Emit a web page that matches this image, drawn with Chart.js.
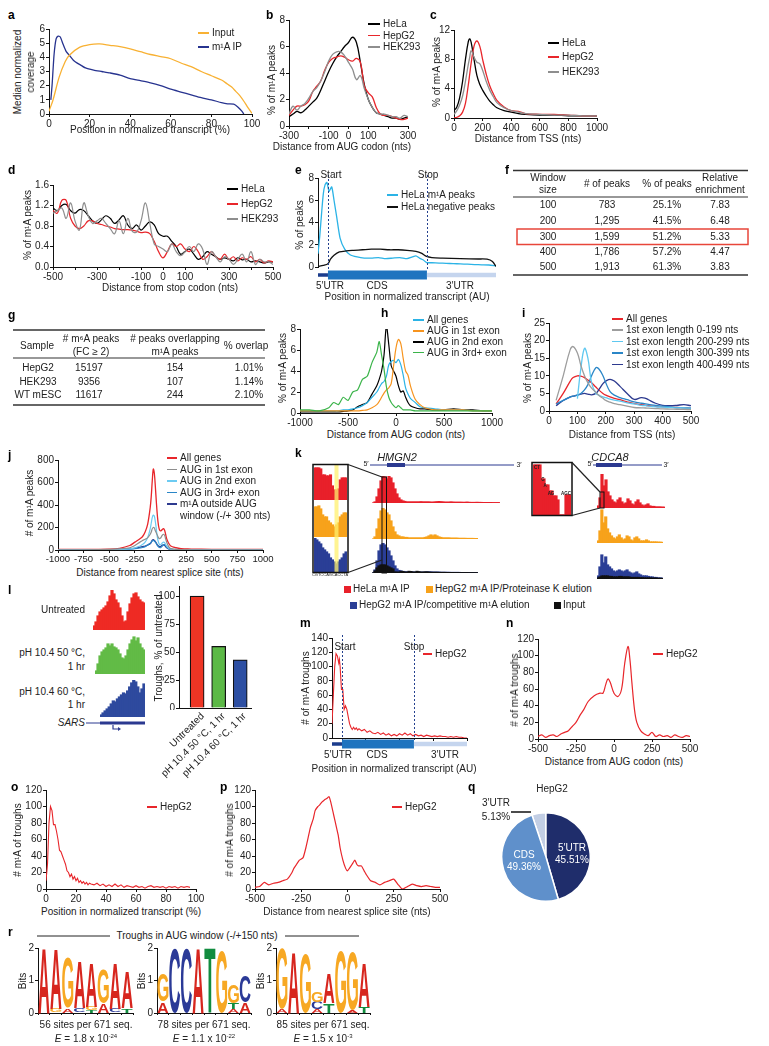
<!DOCTYPE html>
<html>
<head>
<meta charset="utf-8">
<title>m1A figure</title>
<script src="https://cdn.jsdelivr.net/npm/chart.js@4.4.1/dist/chart.umd.min.js"></script>
<style>
  body { margin: 0; background: #fff; }
  #fig { position: relative; width: 769px; height: 1046px; overflow: hidden; font-family: "Liberation Sans", Arial, sans-serif; color: #222; }
  #fig canvas { position: absolute; }
  .t { position: absolute; white-space: nowrap; font-size: 10px; line-height: 1; }
  .lab { font-weight: bold; font-size: 12px; color: #000; }
  .w { color: #fff; }
  sup { font-size: 6px; vertical-align: 4px; line-height: 0; }
</style>
</head>
<body>
<div id="fig"></div>
<script>
// ---------- data ----------
// a
const aInX = [0,2,5,8,10,15,20,25,30,35,40,45,50,55,60,65,70,75,80,85,88,90,92,94,96,98,100];
const aInY = [0.2,1.0,2.6,3.7,4.15,4.7,4.9,4.95,4.85,4.75,4.6,4.4,4.2,4.05,3.9,3.6,3.35,3.0,2.7,2.4,2.1,1.9,1.6,1.3,0.9,0.45,0.05];
const aIpX = [0.9,1.5,2.5,3.5,4.5,5.5,7,8.5,10,12,15,18,22,26,30,35,40,45,50,55,60,65,70,75,80,85,88,91,93,95,96];
const aIpY = [1.0,2.0,4.2,5.3,5.5,5.45,4.9,4.4,4.15,3.8,3.5,3.25,3.1,3.0,2.9,2.75,2.5,2.35,2.2,2.0,1.75,1.55,1.35,1.15,1.0,0.8,0.72,0.7,0.5,0.2,0.0];
// b
const bX = [-300,-280,-260,-240,-220,-200,-180,-160,-140,-120,-100,-80,-60,-40,-20,0,20,40,60,80,100,120,140,160,180,200,220,240,260,280,300];
const bHeLa = [0.7,0.9,1.1,1.0,1.2,1.5,1.8,2.1,2.7,3.4,4.1,4.7,5.2,5.6,6.0,6.3,6.7,6.3,4.8,3.1,2.0,1.4,1.0,0.9,0.8,0.7,0.6,0.6,0.5,0.6,0.7];
const bHepG2 = [0.8,1.2,1.5,1.5,1.6,1.9,2.6,3.0,3.4,4.2,4.8,5.1,5.2,5.3,5.2,5.0,4.9,5.1,4.8,3.0,2.5,2.2,1.4,0.9,0.8,0.8,0.7,0.6,0.5,0.5,0.6];
const bHEK = [0.9,1.5,1.2,1.5,1.7,2.1,2.6,2.9,3.4,4.1,4.9,5.4,5.6,5.6,5.3,4.8,4.3,3.5,3.8,2.8,2.0,1.4,1.0,0.9,0.9,0.8,0.7,0.7,0.6,0.8,0.7];
// c
const cX = [0,20,40,60,80,100,110,120,140,160,180,200,225,250,275,300,350,400,450,500,600,700,800,900,1000];
const cHeLa = [1.0,1.5,2.8,5.0,8.0,10.4,10.8,10.3,8.0,5.8,4.6,3.8,3.0,2.3,1.8,1.4,1.0,0.8,0.6,0.5,0.4,0.4,0.3,0.3,0.3];
const cHepG2 = [0.0,0.1,0.3,0.8,2.0,4.5,6.0,7.5,9.8,10.5,9.8,8.0,6.0,4.4,3.3,2.4,1.5,1.0,0.9,0.6,0.5,0.5,0.4,0.3,0.3];
const cHEK = [0.5,1.0,1.8,3.0,5.0,7.3,8.3,9.2,8.3,7.6,7.4,6.5,5.0,3.8,2.9,2.1,1.4,1.0,0.8,0.6,0.5,0.4,0.4,0.3,0.3];
// d
const dX = [-500,-480,-460,-440,-420,-400,-380,-360,-340,-320,-300,-280,-260,-240,-220,-200,-180,-160,-140,-120,-100,-80,-60,-40,-20,0,20,40,60,80,100,120,140,160,180,200,220,240,260,280,300,320,340,360,380,400,420,440,460,480,500];
const dHeLa = [1.15,1.1,1.2,1.22,1.1,1.05,1.12,1.1,1.0,0.9,0.85,0.92,1.0,0.95,0.85,0.92,1.0,0.82,0.75,0.82,0.72,0.8,0.88,0.82,0.65,0.6,0.6,0.5,0.4,0.25,0.3,0.35,0.25,0.15,0.2,0.3,0.25,0.2,0.15,0.18,0.15,0.12,0.18,0.14,0.15,0.1,0.12,0.1,0.08,0.1,0.1];
const dHepG2 = [1.1,1.05,1.3,1.3,0.95,0.8,0.75,0.8,0.9,0.9,0.85,0.83,0.8,0.78,0.75,0.74,0.73,0.73,0.72,0.7,0.67,0.68,0.65,0.5,0.3,0.18,0.3,0.45,0.4,0.45,0.35,0.3,0.4,0.3,0.15,0.2,0.3,0.2,0.15,0.25,0.15,0.2,0.12,0.18,0.15,0.2,0.1,0.15,0.08,0.12,0.1];
const dHEK = [1.05,1.1,1.15,0.95,1.25,0.9,0.72,1.25,1.0,0.85,0.9,0.95,0.85,0.75,0.65,0.9,0.65,0.95,0.7,0.68,0.9,1.25,0.85,0.45,0.4,0.35,0.3,0.45,0.3,0.22,0.3,0.4,0.3,0.45,0.35,0.05,0.3,0.2,0.1,0.2,0.15,0.05,0.15,0.25,0.1,0.3,0.05,0.15,0.1,0.1,0.05];
// e
const ePkX = [0,1,2,3,4,5,6.2,7.7,9,10.5,12.4,15,18,22,26,30,34,38,42,46,50,53,55,57,59,61,64,68,72,76,80,84,88,92,96,100];
const ePkY = [1.2,2.8,4.8,6.6,7.4,7.6,6.8,7.2,6.0,4.5,2.6,1.6,1.1,0.9,0.8,0.8,0.85,0.75,0.8,0.85,0.75,0.9,1.0,0.8,0.65,0.4,0.38,0.35,0.33,0.3,0.28,0.25,0.22,0.2,0.18,0.1];
const eNegX = [0,3,5.6,7,9,12,16,20,25,30,35,40,45,50,55,58,61,64,70,80,90,95,98,100];
const eNegY = [0.05,0.15,0.3,0.7,1.05,1.35,1.45,1.5,1.55,1.6,1.6,1.55,1.55,1.5,1.4,1.25,0.95,0.85,0.8,0.75,0.72,0.7,0.5,0.05];
const eMarks = [5.6, 61.2];
const eRegions = [[0,5.6],[5.6,61.2],[61.2,100]];
// f
const fWin = ['100','200','300','400','500'];
const fPeaks = ['783','1,295','1,599','1,786','1,913'];
const fPct = ['25.1%','41.5%','51.2%','57.2%','61.3%'];
const fEnr = ['7.83','6.48','5.33','4.47','3.83'];
// g
const gSample = ['HepG2','HEK293','WT mESC'];
const gM6A = ['15197','9356','11617'];
const gOver = ['154','107','244'];
const gPct = ['1.01%','1.14%','2.10%'];
// h
const hX = [-1000,-900,-800,-700,-650,-600,-550,-500,-450,-400,-350,-300,-250,-200,-175,-150,-125,-100,-75,-50,-25,0,25,50,75,100,125,150,200,250,300,400,500,600,700,800,900,1000];
const hAll = [0.2,0.2,0.2,0.2,0.2,0.2,0.3,0.3,0.4,0.5,0.7,1.0,1.5,2.0,2.4,2.8,3.0,3.5,4.6,4.9,5.0,4.8,5.1,4.6,3.6,2.4,1.8,1.4,1.0,0.6,0.5,0.4,0.3,0.3,0.3,0.2,0.2,0.2];
const h1st = [0.2,0.2,0.2,0.2,0.2,0.2,0.2,0.2,0.2,0.2,0.25,0.3,0.5,0.8,1.1,1.5,1.9,2.2,2.4,2.8,4.5,6.2,7.0,6.6,5.2,4.0,3.6,2.6,1.3,0.8,0.5,0.3,0.3,0.3,0.3,0.2,0.2,0.2];
const h2nd = [0.1,0.1,0.1,0.1,0.1,0.1,0.15,0.2,0.3,0.6,0.8,1.0,1.8,2.6,3.2,4.0,5.5,8.3,6.5,4.5,4.0,3.5,2.6,2.0,2.1,1.5,1.0,0.7,0.5,0.4,0.4,0.3,0.3,0.4,0.3,0.3,0.2,0.2];
const h3rd = [0.3,0.3,0.2,0.5,1.0,0.8,1.5,1.2,2.0,2.2,3.2,3.5,4.8,5.8,6.8,5.5,4.2,2.5,1.5,1.0,0.7,0.5,0.7,0.5,0.3,0.3,0.3,0.3,0.2,0.2,0.2,0.2,0.2,0.2,0.2,0.2,0.2,0.2];
// i
const iX = [25,50,75,85,100,112,125,137,150,165,175,190,200,215,230,250,275,300,325,340,350,375,400,425,450,475,500];
const iAll = [2,5,8.5,9.5,10,9.9,9.5,8.8,8,6.8,6,5,4.5,4,3.6,3.2,2.6,2.1,1.8,1.6,1.5,1.3,1.2,1.1,1.0,0.9,0.8];
const i0 = [3,10,17.5,18.3,16.5,13,10,8,6.5,5.3,4.5,3.6,3,2.5,2.1,1.8,1.4,1.0,0.9,0.85,0.8,0.7,0.6,0.55,0.5,0.45,0.4];
const i200 = [null,null,null,null,3.5,12,17.8,15,8,5,4.5,4,3.8,3.4,3.1,2.8,2.3,2.0,1.6,1.5,1.4,1.2,1.1,1.0,0.9,0.85,0.8];
const i300 = [2,3,4,4.2,4.5,5,6,7.5,10,12.3,12,10,8,5.5,4.5,3.8,3.2,2.6,2.2,2.0,1.9,1.6,1.4,1.2,1.0,0.9,0.8];
const i400 = [1.5,3,4,4.2,4.5,4.8,5,4.8,4.6,5,6,7.8,8.5,9,8.5,7,5,3.3,3.8,3.6,3.2,2.2,1.6,1.5,1.6,1.8,1.5];
// j
const jX = [-1000,-750,-500,-400,-300,-250,-200,-175,-150,-125,-100,-90,-80,-70,-60,-50,-40,-30,-20,-10,0,10,20,30,40,50,60,80,100,150,200,250,300,500,750,1000];
const jAll = [5,5,8,15,40,70,100,120,160,230,380,480,620,720,680,560,420,300,220,180,170,175,185,190,175,140,100,60,35,20,12,10,8,6,5,5];
const j1st = [2,2,5,10,20,40,70,85,95,110,140,160,190,200,195,170,150,130,110,100,105,120,135,140,130,100,70,30,12,6,4,3,2,2,2,2];
const j2nd = [2,2,3,5,10,20,35,50,70,110,190,240,290,310,300,250,180,110,70,50,45,55,65,70,65,50,35,15,8,5,3,3,2,2,2,2];
const j3rd = [2,2,3,4,8,12,18,22,30,45,60,70,80,85,80,70,55,40,28,22,20,28,38,45,48,40,28,12,6,4,3,2,2,2,2,2];
const jOut = [3,3,4,6,10,15,25,30,35,45,55,70,88,92,85,75,60,45,35,30,30,38,45,45,40,30,20,10,6,4,3,3,3,3,3,3];
// k coverage tracks
const kHmgnRed = [0,1,6,14,22,27,26,24,27,25,20,14,9,5,3,2,1.5,1,1,1,1,1,1,1,1.2,1,1,1,1,0.8,0.8,1,1.2,1.4,1.2,1,0.8,0.8,0.8,1,0.8,0.7,0.7,0.7,0.7,0.6,0.6,0.8,0.6,0.5,0.5,0.5,0.6,0.5,0.5,0.4,0.4,0.4,0.4,0.4,0.3,0.3,0.3,0.3];
const kHmgnOrange = [0,2,10,20,28,31,29,26,24,18,12,7,4,3,2,2,1.5,1.5,1,1,1,1,1,1,1,1,1.5,2,3,4,3,4,3,2,1.5,1,1,1,1,0.8,0.8,0.8,0.8,0.6,0.6,0.6,0.6,0.5,0.5,0.5,0.5,0.4,0.4];
const kHmgnBlue = [0,3,12,22,28,30,28,25,22,17,12,7,4,2.5,2,1.5,1.2,1,1,1,1,0.8,0.8,0.8,0.8,0.8,0.8,1,1,1,0.8,0.8,0.8,0.8,0.6,0.6,0.6,0.6,0.6,0.5,0.5,0.5,0.5,0.5,0.4,0.4,0.4,0.4,0.4,0.3,0.3,0.3,0.3];
const kHmgnInput = [0,2,5,7,8,8,8,7,6,5,4,1,0.8,0.8,1.6,1.4,0.8,0.8,1.6,1.4,0.8,0.8,1.6,1.2,0.8,0.8,1,1,0.8,0.6,0.6,0.6,0.6,0.5,0.5,0.5,0.5,0.4,0.4,0.4,0.4,0.3,0.3,0.3,0.3,0.3,0.3,0.3,0.2,0.2,0.2,0.2,0.2];
const kCdcaRed = [2,10,34,22,28,16,12,8,6,5,8,10,6,4,5,9,7,4,3,6,8,5,3,2,3,4,2,1.5,1.5,1,1,1,0.8,0.8];
const kCdcaOrange = [2,12,33,20,26,14,10,7,5,4,6,8,5,3,4,7,6,3,2,5,6,4,2,2,2,3,2,1,1,1,1,0.8,0.8,0.6];
const kCdcaBlue = [3,12,24,16,22,14,12,10,8,7,8,9,8,7,8,9,7,6,5,6,7,5,4,3,3,3,2.5,2,2,1.5,1.5,1,1,0.8];
const kCdcaInput = [1,2,3,3,3,3,2.5,2.5,2,2,2,2.5,2.5,2,2,2,2,1.5,1.5,1.5,1.5,1.5,1.2,1.2,1,1,1,1,0.8,0.8,0.8,0.6,0.6,0.5];
const kInsetRed = [32,32,32,31,25,25,24,24,25,14,10,10,11,20,22,22,22];
const kInsetOrange = [30,30,31,28,22,20,20,16,14,12,10,12,14,20,22,24,24];
const kInsetBlue = [34,32,30,28,24,22,20,18,14,12,10,8,10,12,14,18,20];
const kInset2Red = [50,50,50,50,36,36,30,30,24,24,19,19,15,0,0,0,20,20,20];
// l
const lRed = [4,8,14,18,20,22,24,28,34,40,36,30,27,22,14,8,9,18,26,32,36,37,33,30,28,27];
const lGreen = [3,10,18,22,24,26,30,28,30,27,26,24,20,16,15,18,24,30,34,37,33,36,30,26,24];
const lBlue = [2,4,6,8,10,13,16,15,18,20,22,24,23,26,30,34,37,35,30,24,28,33];
const lBarX = [1, 2, 3];
const lBarY = [100, 55, 43];
const lBarLabels = ['Untreated', 'pH 10.4 50 °C, 1 hr', 'pH 10.4 60 °C, 1 hr'];
// m
const mX = [0,1,2,3,4,5,5.5,6,7,8,9,10,11,12,13,14,15,16,17,18,19,20,22,24,26,28,30,32,34,36,38,40,42,44,46,48,50,52,54,56,58,60,62,64,66,68,70,72,74,76,78,80,82,84,86,88,90,92,94,96,98,100];
const mY = [20,60,100,118,115,105,110,100,68,68,40,45,40,30,20,15,12,15,12,14,11,13,10,12,8,10,7,6,8,5,7,4,6,3,5,3,6,4,7,4,6,3,5,3,4,2,4,3,2,3,2,3,2,2,1,2,1,2,1,1,0,0];
const mMarks = [7.4, 60.7];
const mRegions = [[0,7.4],[7.4,60.7],[60.7,100]];
// n
const nX = [-500,-475,-450,-425,-400,-375,-350,-325,-300,-275,-250,-225,-200,-170,-130,-92,-72,-55,-40,-25,0,26,50,70,92,105,118,135,150,175,200,225,250,275,300,325,350,375,400,425,450,475,500];
const nY = [3,5,2,4,5,3,6,8,10,15,20,28,35,45,52,55,55,65,72,68,55,51,60,90,111,95,67,35,20,10,6,4,8,3,5,3,4,2,5,3,2,4,3];
// o
const oX = [0,1,2,3,4,5,6,7,8,9,10,11,12,13,14,15,16,17,18,19,20,21,22,23,24,25,26,27,28,29,30,32,34,36,38,40,42,44,46,48,50,52,54,56,58,60,62,64,66,68,70,72,74,76,78,80,82,84,86,88,90,92,94,96];
const oY = [10,30,80,100,95,78,78,70,60,47,45,40,35,30,22,20,15,18,12,15,10,13,8,10,7,9,6,8,5,7,6,5,7,4,6,3,5,3,6,3,5,2,4,3,2,4,2,3,1,3,4,2,3,2,3,1,3,2,3,1,3,2,3,2];
// p
const pX = [-500,-475,-450,-425,-400,-375,-350,-325,-300,-290,-275,-260,-240,-225,-210,-200,-185,-175,-160,-150,-140,-125,-110,-100,-90,-75,-60,-50,-40,-25,-10,0,10,25,40,50,60,75,90,100,125,150,175,200,225,250,275,290,300,325,350,375,400,425,450,475,500];
const pY = [2,3,8,5,7,8,10,12,20,25,30,35,38,50,65,75,85,95,100,102,105,108,110,112,105,90,75,65,50,35,25,22,25,30,35,30,28,28,22,18,10,8,5,8,10,12,5,1,0,3,6,4,3,4,3,2,2];
// q
const qLabels = ['3′UTR', '5′UTR', 'CDS'];
const qValues = [5.13, 45.51, 49.36];
// r sequence logos: per position, letters bottom to top with height in bits
const logo1 = [[['A',2.0]],[['G',0.12],['A',1.85]],[['A',0.15],['G',1.55]],[['C',0.15],['A',1.45]],[['T',0.1],['G',0.1],['A',1.35]],[['A',0.28],['G',1.05]],[['C',0.12],['A',1.4]],[['T',0.15],['A',1.1]]];
const logo2 = [[['A',0.35],['G',0.85]],[['C',2.0]],[['C',2.0]],[['A',2.0]],[['T',2.0]],[['G',1.9]],[['A',0.12],['T',0.18],['G',0.55]],[['A',0.32],['C',0.8]]];
const logo3 = [[['A',0.12],['G',1.85]],[['A',1.9]],[['G',1.85]],[['A',0.12],['C',0.22],['G',0.3]],[['T',0.3],['A',0.9]],[['G',1.9]],[['A',0.1],['G',1.8]],[['T',0.2],['A',1.35]]];

// ---------- colours ----------
const RED = '#E8262B', GREY = '#8E8E8E', CYAN = '#2BB3E6', ORANGE = '#F7941E', GREEN = '#3BB44A';
const LBLUE = '#6CCBF2', MBLUE = '#2A86C7', NAVY = '#2D3A8F';
const K_RED = '#E8202A', K_ORANGE = '#F7A21B', K_BLUE = '#2A3E96', K_BLACK = '#111';
const LOGO_COL = { A: '#D7261E', C: '#2B3A97', G: '#F7A823', T: '#118C3F' };

// ---------- helpers ----------
const fig = document.getElementById('fig');
const FONT = '"Liberation Sans", Arial, sans-serif';
Chart.defaults.font.family = FONT;
Chart.defaults.font.size = 10;
Chart.defaults.color = '#222';

function txt(x, y, s, o = {}) {
  const d = document.createElement('div');
  d.className = 't' + (o.cls ? ' ' + o.cls : '');
  d.innerHTML = s;
  const tf = o.rot ? `translate(-50%,-50%) rotate(${o.rot}deg)`
    : `translate(${o.a === 'l' ? '0' : o.a === 'r' ? '-100%' : '-50%'},-50%)`;
  d.style.left = x + 'px';
  d.style.top = y + 'px';
  d.style.transform = tf;
  if (o.style) d.style.cssText += o.style;
  fig.appendChild(d);
  return d;
}

function slant(x, y, s) {
  const d = document.createElement('div');
  d.className = 't';
  d.innerHTML = s;
  d.style.left = x + 'px';
  d.style.top = y + 'px';
  d.style.transformOrigin = '100% 0';
  d.style.transform = 'translate(-100%,0) rotate(-45deg)';
  fig.appendChild(d);
}

function leg(x, y, color, label, len = 11) {
  const d = document.createElement('div');
  d.style.cssText = `position:absolute;left:${x}px;top:${y - 0.75}px;width:${len}px;height:1.5px;background:${color}`;
  fig.appendChild(d);
  txt(x + len + 3, y, label, { a: 'l' });
}

function sq(x, y, color, label) {
  const d = document.createElement('div');
  d.style.cssText = `position:absolute;left:${x}px;top:${y - 3.5}px;width:7px;height:7px;background:${color}`;
  fig.appendChild(d);
  txt(x + 9, y, label, { a: 'l' });
}

function lin(min, max, ticks, o = {}) {
  return {
    type: 'linear', min, max,
    afterBuildTicks: s => { s.ticks = ticks.map(v => ({ value: v })); },
    afterFit: s => {
      if (s.isHorizontal()) s.height = o.size; else s.width = o.size;
      s.paddingLeft = s.paddingRight = s.paddingTop = s.paddingBottom = 0;
    },
    ticks: {
      autoSkip: false, maxRotation: 0, minRotation: 0, padding: 1,
      color: '#222', font: { size: o.fs || 10, family: FONT },
      callback: v => (o.show && !o.show.includes(v)) ? '' : (o.fmt ? o.fmt(v) : String(v)),
    },
    grid: { drawOnChartArea: false, drawTicks: true, tickLength: 3, color: '#111', lineWidth: 1 },
    border: { display: true, color: '#111', width: 1 },
  };
}

function ln(xs, ys, color, tension = 0.4, w = 1.3) {
  return {
    data: xs.map((x, i) => ({ x, y: ys[i] })),
    borderColor: color, borderWidth: w, pointRadius: 0, tension, fill: false,
  };
}

function mkChart(box, pad, type, datasets, scales, more = {}) {
  const [x0, y0, x1, y1] = box, [L, T, R, B] = pad;
  const c = document.createElement('canvas');
  const w = Math.round(x1 - x0 + L + R), h = Math.round(y1 - y0 + T + B);
  c.width = w; c.height = h;
  c.style.left = (x0 - L) + 'px';
  c.style.top = (y0 - T) + 'px';
  c.style.width = w + 'px';
  c.style.height = h + 'px';
  fig.appendChild(c);
  const options = {
    responsive: false, animation: false, events: [], devicePixelRatio: 1,
    layout: { padding: ('padding' in more) ? more.padding : { left: 0, top: T, right: R, bottom: 0 } },
    plugins: { legend: { display: false }, tooltip: { enabled: false } },
    scales,
  };
  Object.assign(options, more.options || {});
  return new Chart(c, { type, data: { labels: more.labels, datasets }, options, plugins: more.plugins || [] });
}

function track(box, series, colors, max) {
  const n = Math.max(...series.map(s => s.length));
  return mkChart(box, [0, 0, 0, 0], 'bar', series.map((s, i) => ({
    data: s, backgroundColor: colors[i], borderWidth: 0,
    barPercentage: 1, categoryPercentage: 1, inflateAmount: 0.6,
    grouped: false, order: series.length - i,
  })), {
    x: { type: 'category', display: false },
    y: { display: false, min: 0, max },
  }, { labels: Array.from({ length: n }, (_, i) => i), padding: 0 });
}

function hiddenX(min, max, B) {
  return {
    type: 'linear', min, max,
    afterFit: s => { s.height = B; s.paddingLeft = s.paddingRight = 0; },
    ticks: { display: false }, grid: { display: false }, border: { display: false },
  };
}

function transcriptPlugin(marks, regions, off) {
  const cols = ['#1B3C8C', '#1F74BF', '#C5D5EE'];
  const hts = [3.5, 9, 4.5];
  return {
    id: 'tx',
    afterDatasetsDraw(ch) {
      const { ctx, chartArea: a } = ch, x = ch.scales.x;
      const yc = a.bottom + off;
      ctx.save();
      regions.forEach((r, i) => {
        const p0 = x.getPixelForValue(r[0]), p1 = x.getPixelForValue(r[1]);
        ctx.fillStyle = cols[i];
        ctx.fillRect(p0, yc - hts[i] / 2, p1 - p0, hts[i]);
      });
      ctx.strokeStyle = '#23408E';
      ctx.lineWidth = 1;
      ctx.setLineDash([2, 2]);
      marks.forEach(m => {
        const p = Math.round(x.getPixelForValue(m)) + 0.5;
        ctx.beginPath(); ctx.moveTo(p, a.top - 3); ctx.lineTo(p, yc - 4); ctx.stroke();
      });
      ctx.restore();
    },
  };
}

const logoPlugin = {
  id: 'logo',
  afterDatasetsDraw(ch) {
    const ctx = ch.ctx;
    ch.data.datasets.forEach((ds, di) => {
      ch.getDatasetMeta(di).data.forEach((bar, i) => {
        const L = ds.letters[i];
        if (!L) return;
        const top = Math.min(bar.y, bar.base), h = Math.abs(bar.base - bar.y);
        if (h < 0.5) return;
        const w = bar.width;
        ctx.save();
        ctx.font = 'bold 100px ' + FONT;
        const m = ctx.measureText(L);
        const gw = m.actualBoundingBoxLeft + m.actualBoundingBoxRight;
        const gh = m.actualBoundingBoxAscent + m.actualBoundingBoxDescent;
        ctx.translate(bar.x - w / 2, top);
        ctx.scale(w / gw, h / gh);
        ctx.fillStyle = LOGO_COL[L];
        ctx.fillText(L, m.actualBoundingBoxLeft, m.actualBoundingBoxAscent);
        ctx.restore();
      });
    });
  },
};

function logoSets(pos) {
  const n = Math.max(...pos.map(p => p.length));
  const sets = [];
  for (let k = 0; k < n; k++) {
    sets.push({
      data: pos.map(p => p[k] ? p[k][1] : 0),
      letters: pos.map(p => p[k] ? p[k][0] : ''),
      backgroundColor: 'rgba(0,0,0,0)', borderWidth: 0,
      categoryPercentage: 1, barPercentage: 0.94,
    });
  }
  return sets;
}

function logo(x0, x1, pos) {
  mkChart([x0, 948, x1, 1013], [12, 5, 2, 4], 'bar', logoSets(pos), {
    x: {
      type: 'category', stacked: true,
      afterFit: s => { s.height = 4; s.paddingLeft = s.paddingRight = 0; },
      ticks: { display: false },
      grid: { drawOnChartArea: false, tickLength: 2, color: '#111' },
      border: { color: '#111' },
    },
    y: Object.assign(lin(0, 2, [0, 1, 2], { size: 12 }), { stacked: true }),
  }, { labels: pos.map((_, i) => String(i + 1)), plugins: [logoPlugin] });
}

// ---------- panel a ----------
mkChart([49, 29, 252, 114], [22, 6, 10, 16], 'line', [
  ln(aInX, aInY, '#F8B133', 0.3), ln(aIpX, aIpY, '#27338F', 0.2),
], { x: lin(0, 100, [0, 20, 40, 60, 80, 100], { size: 16 }), y: lin(0, 6, [0, 1, 2, 3, 4, 5, 6], { size: 22 }) });
txt(8, 15, 'a', { a: 'l', cls: 'lab' });
txt(18, 72, 'Median normalized', { rot: -90 });
txt(31, 72, 'coverage', { rot: -90 });
txt(150, 130, 'Position in normalized transcript (%)');
leg(198, 33, '#F8B133', 'Input');
leg(198, 47, '#27338F', 'm¹A IP');

// ---------- panel b ----------
mkChart([289, 20, 408, 126], [16, 6, 12, 16], 'line', [
  ln(bX, bHEK, GREY), ln(bX, bHepG2, RED), ln(bX, bHeLa, '#000'),
], {
  x: lin(-300, 300, [-300, -200, -100, 0, 100, 200, 300], { size: 16, show: [-300, -100, 0, 100, 300] }),
  y: lin(0, 8, [0, 2, 4, 6, 8], { size: 16 }),
});
txt(266, 15, 'b', { a: 'l', cls: 'lab' });
txt(272, 80, '% of m¹A peaks', { rot: -90 });
txt(342, 147, 'Distance from AUG codon (nts)');
leg(368, 24, '#000', 'HeLa', 12);
leg(368, 35.5, RED, 'HepG2', 12);
leg(368, 47, GREY, 'HEK293', 12);

// ---------- panel c ----------
mkChart([454, 30, 597, 118], [20, 6, 14, 16], 'line', [
  ln(cX, cHEK, GREY), ln(cX, cHepG2, RED), ln(cX, cHeLa, '#000'),
], {
  x: lin(0, 1000, [0, 200, 400, 600, 800, 1000], { size: 16 }),
  y: lin(0, 12, [0, 4, 8, 12], { size: 20 }),
});
txt(430, 15, 'c', { a: 'l', cls: 'lab' });
txt(437, 72, '% of m¹A peaks', { rot: -90 });
txt(528, 139, 'Distance from TSS (nts)');
leg(548, 43, '#000', 'HeLa');
leg(548, 57, RED, 'HepG2');
leg(548, 72, GREY, 'HEK293');

// ---------- panel d ----------
mkChart([53, 185, 273, 267], [22, 6, 12, 16], 'line', [
  ln(dX, dHEK, GREY, 0.4, 1.2), ln(dX, dHepG2, RED, 0.4, 1.2), ln(dX, dHeLa, '#000', 0.4, 1.2),
], {
  x: lin(-500, 500, [-500, -400, -300, -200, -100, 0, 100, 200, 300, 400, 500], { size: 16, show: [-500, -300, -100, 0, 100, 300, 500] }),
  y: lin(0, 1.6, [0, 0.4, 0.8, 1.2, 1.6], { size: 22, fmt: v => v.toFixed(1) }),
});
txt(8, 170, 'd', { a: 'l', cls: 'lab' });
txt(28, 225, '% of m¹A peaks', { rot: -90 });
txt(170, 288, 'Distance from stop codon (nts)');
leg(227, 189, '#000', 'HeLa');
leg(227, 204, RED, 'HepG2');
leg(227, 219, GREY, 'HEK293');

// ---------- panel e ----------
mkChart([318, 178, 496, 267], [16, 8, 4, 16], 'line', [
  ln(eNegX, eNegY, '#111', 0.3), ln(ePkX, ePkY, CYAN, 0.2),
], {
  x: hiddenX(0, 100, 16),
  y: lin(0, 8, [0, 2, 4, 6, 8], { size: 16 }),
}, { plugins: [transcriptPlugin(eMarks, eRegions, 8)] });
txt(295, 170, 'e', { a: 'l', cls: 'lab' });
txt(300, 225, '% of peaks', { rot: -90 });
txt(331, 175, 'Start');
txt(428, 175, 'Stop');
leg(387, 195, CYAN, 'HeLa m¹A peaks');
leg(387, 207, '#111', 'HeLa negative peaks');
txt(330, 286, '5′UTR');
txt(377, 286, 'CDS');
txt(460, 286, '3′UTR');
txt(407, 297, 'Position in normalized transcript (AU)');

// ---------- panel f (table) ----------
txt(505, 170, 'f', { a: 'l', cls: 'lab' });
const fCols = [548, 607, 667, 720];
txt(fCols[0], 178, 'Window'); txt(fCols[0], 190, 'size');
txt(fCols[1], 184, '# of peaks'); txt(fCols[2], 184, '% of peaks');
txt(fCols[3], 178, 'Relative'); txt(fCols[3], 190, 'enrichment');
const fRowY = [204.5, 220.5, 236.5, 251.5, 267];
fWin.forEach((w, i) => {
  txt(fCols[0], fRowY[i], w); txt(fCols[1], fRowY[i], fPeaks[i]);
  txt(fCols[2], fRowY[i], fPct[i]); txt(fCols[3], fRowY[i], fEnr[i]);
});

// ---------- panel g (table) ----------
txt(8, 315, 'g', { a: 'l', cls: 'lab' });
txt(37, 346, 'Sample');
txt(91, 339, '# m⁶A peaks'); txt(91, 352, '(FC ≥ 2)');
txt(175, 339, '# peaks overlapping'); txt(175, 352, 'm¹A peaks');
txt(246, 346, '% overlap');
const gRowY = [368, 382, 395];
gSample.forEach((s, i) => {
  txt(38, gRowY[i], s); txt(89, gRowY[i], gM6A[i]);
  txt(175, gRowY[i], gOver[i]); txt(249, gRowY[i], gPct[i]);
});

// ---------- panel h ----------
mkChart([300, 329, 492, 413], [14, 6, 14, 16], 'line', [
  ln(hX, h3rd, GREEN, 0.25, 1.2), ln(hX, h1st, ORANGE, 0.35, 1.2), ln(hX, hAll, CYAN, 0.35, 1.2), ln(hX, h2nd, '#000', 0.3, 1.2),
], {
  x: lin(-1000, 1000, [-1000, -500, 0, 500, 1000], { size: 16 }),
  y: lin(0, 8, [0, 2, 4, 6, 8], { size: 14 }),
});
txt(381, 313, 'h', { a: 'l', cls: 'lab' });
txt(283, 368, '% of m¹A peaks', { rot: -90 });
txt(396, 435, 'Distance from AUG codon (nts)');
leg(413, 320, CYAN, 'All genes');
leg(413, 331, ORANGE, 'AUG in 1st exon');
leg(413, 342, '#000', 'AUG in 2nd exon');
leg(413, 352.5, GREEN, 'AUG in 3rd+ exon');

// ---------- panel i ----------
mkChart([549, 323, 691, 411], [16, 6, 12, 16], 'line', [
  ln(iX, i0, '#9D9D9D'), ln(iX, i200, '#5FC8F0'), ln(iX, i300, MBLUE), ln(iX, i400, NAVY), ln(iX, iAll, RED),
], {
  x: lin(0, 500, [0, 100, 200, 300, 400, 500], { size: 16 }),
  y: lin(0, 25, [0, 5, 10, 15, 20, 25], { size: 16 }),
});
txt(522, 313, 'i', { a: 'l', cls: 'lab' });
txt(528, 368, '% of m¹A peaks', { rot: -90 });
txt(622, 435, 'Distance from TSS (nts)');
leg(612, 319, RED, 'All genes');
leg(612, 330, '#9D9D9D', '1st exon length 0-199 nts');
leg(612, 341.5, '#5FC8F0', '1st exon length 200-299 nts');
leg(612, 353, MBLUE, '1st exon length 300-399 nts');
leg(612, 364.5, NAVY, '1st exon length 400-499 nts');

// ---------- panel j ----------
mkChart([58, 460, 263, 550], [22, 6, 14, 16], 'line', [
  ln(jX, j1st, GREY, 0.35, 1.2), ln(jX, j2nd, LBLUE, 0.35, 1.2), ln(jX, j3rd, MBLUE, 0.35, 1.2), ln(jX, jOut, NAVY, 0.35, 1.2), ln(jX, jAll, RED, 0.35, 1.3),
], {
  x: lin(-1000, 1000, [-1000, -750, -500, -250, 0, 250, 500, 750, 1000], { size: 16, fs: 9.5 }),
  y: lin(0, 800, [0, 200, 400, 600, 800], { size: 22 }),
});
txt(8, 455, 'j', { a: 'l', cls: 'lab' });
txt(30, 503, '# of m¹A peaks', { rot: -90 });
txt(160, 573, 'Distance from nearest splice site (nts)');
leg(167, 458, RED, 'All genes', 10);
leg(167, 469.5, GREY, 'AUG in 1st exon', 10);
leg(167, 481, LBLUE, 'AUG in 2nd exon', 10);
leg(167, 492.5, MBLUE, 'AUG in 3rd+ exon', 10);
leg(167, 504, NAVY, 'm¹A outside AUG', 10);
txt(180, 516, 'window (-/+ 300 nts)', { a: 'l' });

// ---------- panel k ----------
txt(295, 453, 'k', { a: 'l', cls: 'lab' });
track([372, 476, 500, 503], [kHmgnRed], [K_RED], 27);
track([372, 508, 478, 539], [kHmgnOrange], [K_ORANGE], 31);
track([372, 543, 478, 573], [kHmgnBlue, kHmgnInput], [K_BLUE, K_BLACK], 30);
track([597, 474, 665, 508], [kCdcaRed], [K_RED], 34);
track([597, 509, 663, 543], [kCdcaOrange], [K_ORANGE], 34);
track([597, 553, 663, 579], [kCdcaBlue, kCdcaInput], [K_BLUE, K_BLACK], 26);
track([314, 466, 347, 500], [kInsetRed], [K_RED], 34);
track([314, 503, 347, 537], [kInsetOrange], [K_ORANGE], 34);
track([314, 538, 347, 572], [kInsetBlue], [K_BLUE], 34);
track([533, 463, 571, 515], [kInset2Red], [K_RED], 52);
txt(397, 457, '<i>HMGN2</i>', { style: 'font-size:11px' });
txt(366, 463, '5′', { style: 'font-size:7px' });
txt(519, 464, '3′', { style: 'font-size:7px' });
txt(610, 457, '<i>CDCA8</i>', { style: 'font-size:11px' });
txt(590, 463, '5′', { style: 'font-size:7px' });
txt(666, 464, '3′', { style: 'font-size:7px' });
txt(330, 575, 'CGTCCAGCACCTA', { style: 'font-size:4px' });
[['CT', 537, 468], ['G', 543, 480], ['A', 545, 486], ['AG', 551, 494], ['AGC', 566, 494]].forEach(a => txt(a[1], a[2], a[0], { style: 'font-size:4.5px;font-weight:bold' }));
sq(344, 589, K_RED, 'HeLa m¹A IP');
sq(426, 589, K_ORANGE, 'HepG2 m¹A IP/Proteinase K elution');
sq(350, 605, K_BLUE, 'HepG2 m¹A IP/competitive m¹A elution');
sq(554, 605, K_BLACK, 'Input');

// ---------- panel l ----------
txt(8, 590, 'l', { a: 'l', cls: 'lab' });
track([93, 590, 145, 630], [lRed], ['#EE2A24'], 40);
track([95, 636, 145, 674], [lGreen], ['#62BB46'], 38);
track([100, 680, 145, 717], [lBlue], ['#2E4A9E'], 37);
txt(85, 610, 'Untreated', { a: 'r' });
txt(85, 653, 'pH 10.4 50 °C,', { a: 'r' });
txt(85, 667, '1 hr', { a: 'r' });
txt(85, 692, 'pH 10.4 60 °C,', { a: 'r' });
txt(85, 705, '1 hr', { a: 'r' });
txt(85, 723, '<i>SARS</i>', { a: 'r' });
mkChart([179, 586, 251, 708], [22, 6, 2, 2], 'bar', [{
  data: lBarX.map((x, i) => ({ x, y: lBarY[i] })),
  backgroundColor: ['#EE3524', '#5CB946', '#2D4FA3'], borderColor: '#111', borderWidth: 1.2, barThickness: 14,
}], {
  x: lin(0.16, 3.5, [], { size: 2 }),
  y: lin(0, 109, [0, 25, 50, 75, 100], { size: 22 }),
});
txt(159, 648, 'Troughs, % of untreated', { rot: -90 });
lBarLabels.forEach((s, i) => slant([199, 220, 241][i], 711, s));

// ---------- panel m ----------
mkChart([332, 638, 467, 738], [22, 8, 4, 14], 'line', [ln(mX, mY, RED, 0, 1.1)], {
  x: lin(0, 100, [25, 50, 75, 100], { size: 14, show: [] }),
  y: lin(0, 140, [0, 20, 40, 60, 80, 100, 120, 140], { size: 22 }),
}, { plugins: [transcriptPlugin(mMarks, mRegions, 6)] });
txt(300, 623, 'm', { a: 'l', cls: 'lab' });
txt(306, 688, '# of m¹A troughs', { rot: -90 });
txt(345, 647, 'Start');
txt(414, 647, 'Stop');
leg(423, 654, RED, 'HepG2', 9);
txt(338, 755, '5′UTR');
txt(377, 755, 'CDS');
txt(445, 755, '3′UTR');
txt(394, 769, 'Position in normalized transcript (AU)');

// ---------- panel n ----------
mkChart([538, 639, 690, 739], [22, 6, 12, 16], 'line', [ln(nX, nY, RED, 0.35, 1.2)], {
  x: lin(-500, 500, [-500, -250, 0, 250, 500], { size: 16 }),
  y: lin(0, 120, [0, 20, 40, 60, 80, 100, 120], { size: 22 }),
});
txt(506, 623, 'n', { a: 'l', cls: 'lab' });
txt(515, 690, '# of m¹A troughs', { rot: -90 });
txt(614, 762, 'Distance from AUG codon (nts)');
leg(653, 654, RED, 'HepG2', 10);

// ---------- panel o ----------
mkChart([46, 790, 196, 889], [22, 6, 12, 16], 'line', [ln(oX, oY, RED, 0, 1.1)], {
  x: lin(0, 100, [0, 20, 40, 60, 80, 100], { size: 16 }),
  y: lin(0, 120, [0, 20, 40, 60, 80, 100, 120], { size: 22 }),
});
txt(11, 787, 'o', { a: 'l', cls: 'lab' });
txt(18, 840, '# m¹A of troughs', { rot: -90 });
txt(121, 912, 'Position in normalized transcript (%)');
leg(147, 807, RED, 'HepG2', 10);

// ---------- panel p ----------
mkChart([255, 790, 440, 889], [22, 6, 12, 16], 'line', [ln(pX, pY, RED, 0.15, 1.2)], {
  x: lin(-500, 500, [-500, -250, 0, 250, 500], { size: 16 }),
  y: lin(0, 120, [0, 20, 40, 60, 80, 100, 120], { size: 22 }),
});
txt(220, 787, 'p', { a: 'l', cls: 'lab' });
txt(230, 840, '# of m¹A troughs', { rot: -90 });
txt(347, 912, 'Distance from nearest splice site (nts)');
leg(392, 807, RED, 'HepG2', 10);

// ---------- panel q ----------
mkChart([501, 812, 591, 902], [0, 0, 0, 0], 'pie', [{
  data: qValues, backgroundColor: ['#C2CEE4', '#1F2D6B', '#5F90CB'], borderColor: '#fff', borderWidth: 1.5,
}], {}, { labels: qLabels, padding: 0, options: { rotation: -18.5 } });
txt(468, 787, 'q', { a: 'l', cls: 'lab' });
txt(552, 789, 'HepG2');
txt(496, 803, '3′UTR');
txt(496, 817, '5.13%');
txt(572, 848, '5′UTR', { cls: 'w' });
txt(572, 860, '45.51%', { cls: 'w' });
txt(524, 855, 'CDS', { cls: 'w' });
txt(524, 867, '49.36%', { cls: 'w' });

// ---------- panel r ----------
txt(8, 932, 'r', { a: 'l', cls: 'lab' });
txt(197, 936, 'Troughs in AUG window (-/+150 nts)');
logo(38, 133, logo1);
logo(157, 251, logo2);
logo(276, 370, logo3);
[[23, 86, '56', '1.8', '-24'], [142, 204, '78', '1.1', '-22'], [261, 323, '85', '1.5', '-3']].forEach(r => {
  txt(r[0], 981, 'Bits', { rot: -90 });
  txt(r[1], 1025, r[2] + ' sites per 671 seq.');
  txt(r[1], 1039, '<i>E</i> = ' + r[3] + ' x 10<sup>' + r[4] + '</sup>');
});

// ---------- lines, boxes, gene models ----------
const svgNS = 'http://www.w3.org/2000/svg';
const svg = document.createElementNS(svgNS, 'svg');
svg.setAttribute('width', 769); svg.setAttribute('height', 1046);
svg.style.cssText = 'position:absolute;left:0;top:0';
fig.appendChild(svg);
function el(tag, attrs) {
  const e = document.createElementNS(svgNS, tag);
  for (const k in attrs) e.setAttribute(k, attrs[k]);
  svg.appendChild(e);
  return e;
}
function line(x1, y1, x2, y2, stroke = '#222', w = 1.2) { el('line', { x1, y1, x2, y2, stroke, 'stroke-width': w }); }
// table f
line(513, 170.5, 748, 170.5, '#333', 1.5); line(513, 197, 748, 197, '#333', 1.2); line(513, 275, 748, 275, '#333', 1.5);
el('rect', { x: 517, y: 229, width: 231, height: 15.5, fill: 'none', stroke: '#E8463A', 'stroke-width': 1.5 });
// table g
line(13, 330, 265, 330, '#333', 1.5); line(13, 358, 265, 358, '#333', 1.2); line(13, 405, 265, 405, '#333', 1.5);
// k inset highlight, boxes and connectors
el('rect', { x: 334.5, y: 465, width: 4, height: 107, fill: 'rgba(255,240,110,0.75)' });
el('rect', { x: 313, y: 464.5, width: 35, height: 108, fill: 'none', stroke: '#111', 'stroke-width': 1.5 });
el('rect', { x: 382, y: 477, width: 4.5, height: 96, fill: 'none', stroke: '#111', 'stroke-width': 1 });
line(348, 464.5, 382, 477); line(348, 572.5, 382, 560);
el('rect', { x: 532, y: 462.5, width: 40, height: 53, fill: 'none', stroke: '#111', 'stroke-width': 1.5 });
el('rect', { x: 600, y: 492, width: 4, height: 16, fill: 'none', stroke: '#111', 'stroke-width': 1 });
line(572, 462.5, 600, 492); line(572, 515.5, 600, 508);
// gene models
line(370, 465, 514, 465, '#2B3990', 1); el('rect', { x: 387, y: 463, width: 18, height: 4, fill: '#2B3990' });
line(593, 465, 662, 465, '#2B3990', 1); el('rect', { x: 596, y: 463, width: 26, height: 4, fill: '#2B3990' });
line(86, 723, 145, 723, '#2B3990', 1); el('rect', { x: 100, y: 721.5, width: 45, height: 3, fill: '#2B3990' });
el('path', { d: 'M113 725 L113 729 L119 729', fill: 'none', stroke: '#2B3990', 'stroke-width': 1.2 });
el('path', { d: 'M118 727 L121 729 L118 731 Z', fill: '#2B3990' });
// q leader line
line(511, 812, 531, 812, '#111', 1.5);
// r title rules
line(37, 936, 110, 936, '#222', 1); line(285, 936, 359, 936, '#222', 1);
</script>
</body>
</html>
